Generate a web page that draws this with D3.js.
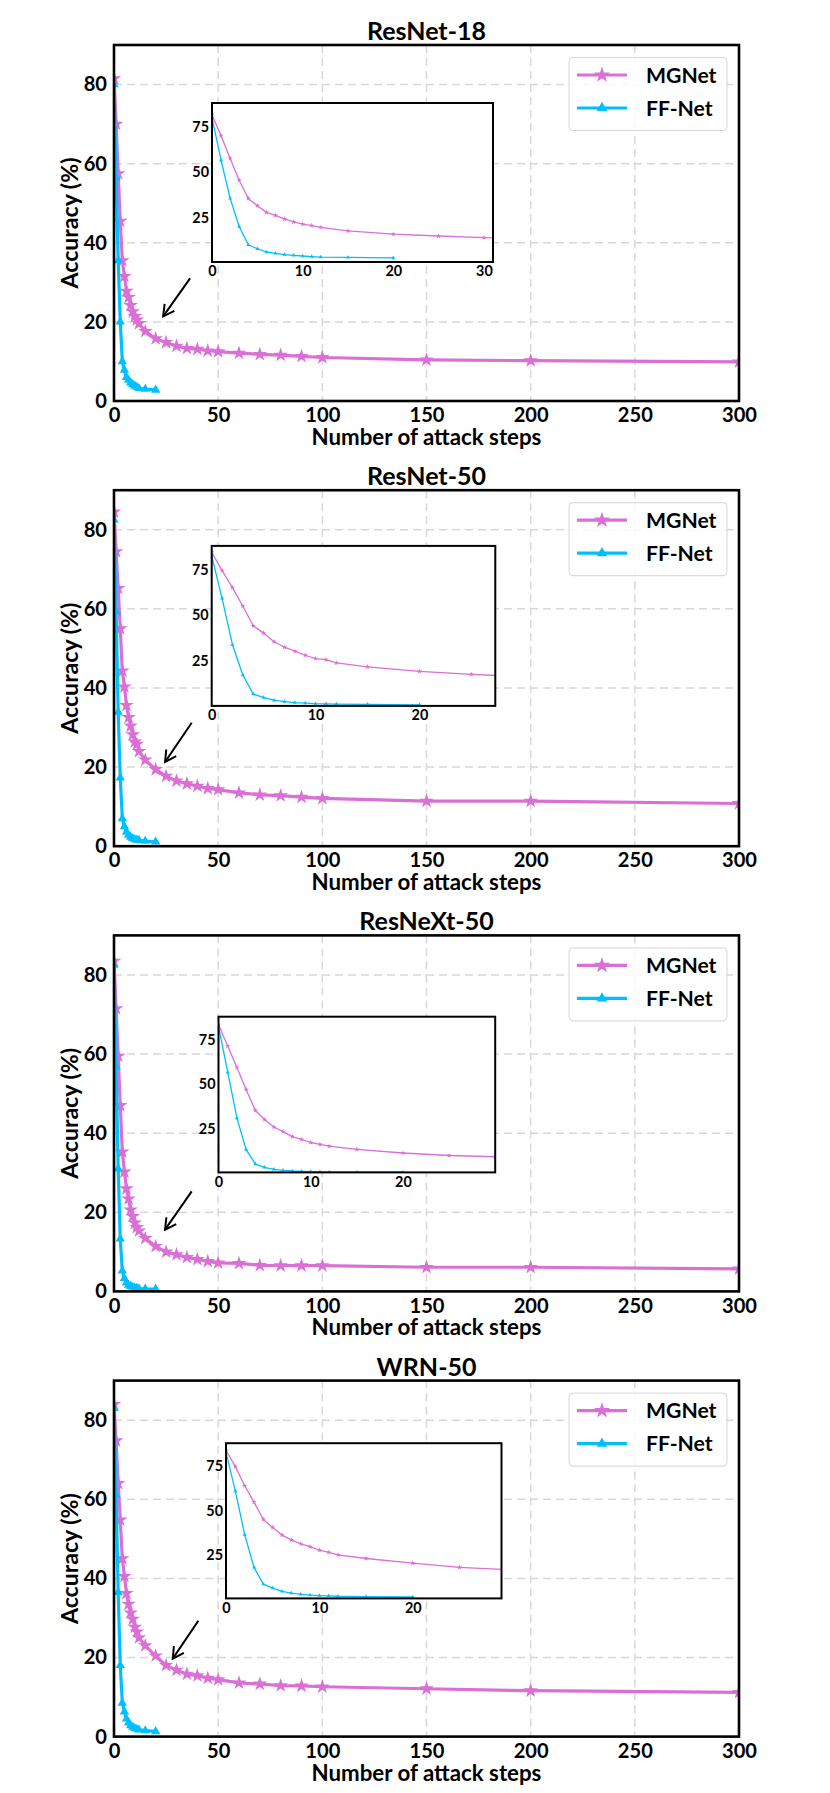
<!DOCTYPE html>
<html>
<head>
<meta charset="utf-8">
<script src="https://cdn.jsdelivr.net/npm/d3@7"></script>
<style>
  body { margin: 0; background: #fff; }
  text { font-family: Lato, "Open Sans", sans-serif; font-weight: bold; fill: #000; }
</style>
</head>
<body>
<script>
// attack steps (x) for each curve
var stepsMG = [0, 1, 2, 3, 4, 5, 6, 7, 8, 9, 10, 11, 12, 15, 20, 25, 30, 35, 40, 45, 50, 60, 70, 80, 90, 100, 150, 200, 300];
var stepsFF = [0, 1, 2, 3, 4, 5, 6, 7, 8, 9, 10, 11, 12, 15, 20];

var titles = ['ResNet-18', 'ResNet-50', 'ResNeXt-50', 'WRN-50'];

// accuracy (%)
var mgResNet18 = [81.5, 70, 57.5, 45.5, 35.5, 31.5, 27.8, 26.2, 24.2, 22.6, 21.4, 20.5, 19.6, 17.6, 15.8, 14.8, 13.9, 13.3, 13.1, 12.7, 12.5, 12.1, 11.8, 11.6, 11.3, 11, 10.4, 10.2, 9.9];
var ffResNet18 = [80, 56.5, 35.5, 20, 10, 7.8, 6, 5.3, 4.6, 4.2, 3.8, 3.5, 3.2, 3.0, 2.8];
var mgResNet50 = [84.5, 74.5, 65.2, 55, 44.3, 40.3, 35.6, 32.6, 30.4, 28.2, 26.4, 25.8, 24, 21.8, 19.4, 17.7, 16.5, 15.8, 15.2, 14.6, 14.3, 13.5, 13, 12.8, 12.4, 12.1, 11.4, 11.4, 10.8];
var ffResNet50 = [82.5, 59.3, 33.9, 17.3, 7, 5, 3.6, 2.8, 2.3, 2, 1.7, 1.6, 1.5, 1.3, 1.1];
var mgResNeXt50 = [83.5, 71.5, 59.5, 47, 35.3, 30.2, 26, 23.4, 20.6, 19, 17.3, 16.2, 15.3, 13.4, 11.4, 10, 9.3, 8.6, 8.1, 7.6, 7.2, 7.1, 6.6, 6.5, 6.5, 6.5, 6.1, 6.1, 5.7];
var ffResNeXt50 = [82.5, 56.8, 31, 13.3, 5.2, 3.3, 2.2, 1.6, 1.3, 1.1, 0.9, 0.8, 0.7, 0.6, 0.6];
var mgWRN50 = [84, 74.8, 64, 54.8, 45, 40.5, 36.2, 33.5, 31.3, 29.7, 27.7, 26.5, 25, 23, 20.4, 18, 16.8, 15.8, 15.4, 14.8, 14.4, 13.6, 13.3, 12.9, 12.8, 12.6, 12.1, 11.6, 11.2];
var ffWRN50 = [83, 61, 36.5, 18, 8.5, 6.3, 4.5, 3.5, 2.8, 2.4, 2.1, 1.9, 1.7, 1.5, 1.3];

var xTicks = [0, 50, 100, 150, 200, 250, 300];
var yTicks = [0, 20, 40, 60, 80];
var insetYTicks = [25, 50, 75];
var insetXMax = [31, 27.3, 30, 29.5];
var insetXTicks = [[0, 10, 20, 30], [0, 10, 20], [0, 10, 20], [0, 10, 20]];

// arrow annotations, [fromStep, fromAcc, toStep, toAcc]
var arrows = [[36.5, 31, 23.6, 21.4], [37.3, 31.2, 24.5, 21.3], [37.3, 25.3, 24.5, 15.6], [40.5, 29.3, 28.2, 19.7]];

var mgSeries = [mgResNet18, mgResNet50, mgResNeXt50, mgWRN50];
var ffSeries = [ffResNet18, ffResNet50, ffResNeXt50, ffWRN50];

var MG_COLOR = '#da70d6';
var FF_COLOR = '#00bfff';

// layout
var W = 830, H = 1793;
var left = 114, right = 739;
var firstTop = 45, panelStep = 445.2, plotH = 356;
// inset boxes relative to each panel: [x0, top offset, x1, bottom offset]
var insetBoxes = [[212, 58, 493, 217], [211.7, 55.7, 495.3, 215.7], [218.5, 81.3, 495.2, 237], [226, 62.6, 501.5, 217.8]];

var svg = d3.select('body').append('svg')
  .attr('width', W)
  .attr('height', H);

// font size that makes a sample string as wide as it is in the picture
var fitSize = function (sample, width) {
  var t = svg.append('text').style('font-size', '20px').text(sample);
  var len = t.node().getComputedTextLength();
  t.remove();
  return (20 * width / len).toFixed(2) + 'px';
};
var titleSize = fitSize('ResNet-18', 119);
var labelSize = fitSize('Number of attack steps', 230);
var ylabelSize = fitSize('Accuracy (%)', 131);
var tickSize = fitSize('200', 35);
var legendSize = fitSize('MGNet', 70.5);
var insetTickSize = fitSize('75', 16.7);

var defs = svg.append('defs');
defs.append('marker')
  .attr('id', 'arrowhead')
  .attr('viewBox', '-12 -8 14 16')
  .attr('markerWidth', 14)
  .attr('markerHeight', 16)
  .attr('markerUnits', 'userSpaceOnUse')
  .attr('orient', 'auto')
  .append('path')
  .attr('d', 'M-11,-6 L0,0 L-11,6')
  .attr('fill', 'none')
  .attr('stroke', '#000')
  .attr('stroke-width', 2);

var star = function (size) { return d3.symbol().type(d3.symbolStar).size(size)(); };
var tri = function (size) { return d3.symbol().type(d3.symbolTriangle).size(size)(); };

var drawSeries = function (g, xs, ys, x, y, color, lw, path, clipId) {
  var pts = xs.map(function (d, i) { return [d, ys[i]]; });
  var s = g.append('g').attr('clip-path', 'url(#' + clipId + ')');
  s.append('path')
    .datum(pts)
    .attr('fill', 'none')
    .attr('stroke', color)
    .attr('stroke-width', lw)
    .attr('stroke-linejoin', 'round')
    .attr('d', d3.line().x(function (d) { return x(d[0]); }).y(function (d) { return y(d[1]); }));
  s.selectAll('path.mk')
    .data(pts.filter(function (d) { return d[0] <= x.domain()[1] + 2; }))
    .enter()
    .append('path')
    .attr('class', 'mk')
    .attr('d', path)
    .attr('fill', color)
    .attr('transform', function (d) { return 'translate(' + x(d[0]) + ',' + y(d[1]) + ')'; });
};

titles.forEach(function (title, p) {
  var top = firstTop + p * panelStep;
  var bottom = top + plotH;
  var g = svg.append('g');

  var x = d3.scaleLinear().domain([0, 300]).range([left, right]);
  var y = d3.scaleLinear().domain([0, 90]).range([bottom, top]);

  defs.append('clipPath').attr('id', 'clip' + p)
    .append('rect').attr('x', left).attr('y', top).attr('width', right - left).attr('height', plotH);

  // grid
  g.selectAll('line.gx')
    .data(xTicks.slice(1, -1))
    .enter()
    .append('line')
    .attr('x1', function (d) { return x(d); })
    .attr('x2', function (d) { return x(d); })
    .attr('y1', top).attr('y2', bottom)
    .attr('stroke', '#d8d8d8').attr('stroke-width', 1.5).attr('stroke-dasharray', '8,5');
  g.selectAll('line.gy')
    .data(yTicks.slice(1))
    .enter()
    .append('line')
    .attr('y1', function (d) { return y(d); })
    .attr('y2', function (d) { return y(d); })
    .attr('x1', left).attr('x2', right)
    .attr('stroke', '#d8d8d8').attr('stroke-width', 1.5).attr('stroke-dasharray', '8,5');

  // curves
  drawSeries(g, stepsMG, mgSeries[p], x, y, MG_COLOR, 3.2, star(66), 'clip' + p);
  drawSeries(g, stepsFF, ffSeries[p], x, y, FF_COLOR, 3.2, tri(38), 'clip' + p);

  // axes
  var ax = g.append('g')
    .attr('transform', 'translate(0,' + bottom + ')')
    .call(d3.axisBottom(x).tickValues(xTicks).tickSize(0).tickPadding(7));
  var ay = g.append('g')
    .attr('transform', 'translate(' + left + ',0)')
    .call(d3.axisLeft(y).tickValues(yTicks).tickSize(0).tickPadding(7));
  [ax, ay].forEach(function (a) {
    a.select('.domain').remove();
    a.selectAll('text').style('font-size', tickSize).style('font-family', 'Lato, sans-serif').style('font-weight', 'bold');
  });

  // frame
  g.append('rect')
    .attr('x', left).attr('y', top)
    .attr('width', right - left).attr('height', plotH)
    .attr('fill', 'none').attr('stroke', '#000').attr('stroke-width', 2.6);

  // titles and labels
  g.append('text')
    .attr('x', (left + right) / 2).attr('y', top - 5)
    .attr('text-anchor', 'middle')
    .style('font-size', titleSize)
    .text(title);
  g.append('text')
    .attr('x', (left + right) / 2).attr('y', bottom + 44)
    .attr('text-anchor', 'middle')
    .style('font-size', labelSize)
    .text('Number of attack steps');
  g.append('text')
    .attr('transform', 'translate(70,' + (top + bottom) / 2 + ') rotate(-90)')
    .attr('text-anchor', 'middle')
    .attr('dy', '0.35em')
    .style('font-size', ylabelSize)
    .text('Accuracy (%)');

  // legend
  var lg = g.append('g');
  lg.append('rect')
    .attr('x', 569).attr('y', top + 12.5)
    .attr('width', 158).attr('height', 73)
    .attr('rx', 4)
    .attr('fill', '#fff').attr('fill-opacity', 0.85)
    .attr('stroke', '#d6d6d6').attr('stroke-width', 1);
  [[MG_COLOR, star(80), 'MGNet'], [FF_COLOR, tri(50), 'FF-Net']].forEach(function (e, i) {
    var ly = top + 30 + i * 33;
    lg.append('line')
      .attr('x1', 577).attr('x2', 627).attr('y1', ly).attr('y2', ly)
      .attr('stroke', e[0]).attr('stroke-width', 3.2);
    lg.append('path').attr('d', e[1]).attr('fill', e[0])
      .attr('transform', 'translate(602,' + ly + ')');
    lg.append('text')
      .attr('x', 646).attr('y', ly).attr('dy', '0.36em')
      .style('font-size', legendSize)
      .text(e[2]);
  });

  // arrow
  var ar = arrows[p];
  g.append('line')
    .attr('x1', x(ar[0])).attr('y1', y(ar[1]))
    .attr('x2', x(ar[2])).attr('y2', y(ar[3]))
    .attr('stroke', '#000').attr('stroke-width', 2)
    .attr('marker-end', 'url(#arrowhead)');

  // inset
  var b = insetBoxes[p];
  var it = top + b[1], ib = top + b[3];
  var ix = d3.scaleLinear().domain([0, insetXMax[p]]).range([b[0], b[2]]);
  var iy = d3.scaleLinear().domain([0.5, 88]).range([ib, it]);
  var ig = g.append('g');
  ig.append('rect')
    .attr('x', b[0]).attr('y', it).attr('width', b[2] - b[0]).attr('height', ib - it)
    .attr('fill', '#fff');
  defs.append('clipPath').attr('id', 'iclip' + p)
    .append('rect').attr('x', b[0]).attr('y', it).attr('width', b[2] - b[0]).attr('height', ib - it);
  drawSeries(ig, stepsMG, mgSeries[p], ix, iy, MG_COLOR, 1.3, star(9), 'iclip' + p);
  drawSeries(ig, stepsFF, ffSeries[p], ix, iy, FF_COLOR, 1.3, tri(7), 'iclip' + p);
  var iax = ig.append('g')
    .attr('transform', 'translate(0,' + ib + ')')
    .call(d3.axisBottom(ix).tickValues(insetXTicks[p]).tickSize(0).tickPadding(4));
  var iay = ig.append('g')
    .attr('transform', 'translate(' + b[0] + ',0)')
    .call(d3.axisLeft(iy).tickValues(insetYTicks).tickSize(0).tickPadding(3));
  [iax, iay].forEach(function (a) {
    a.select('.domain').remove();
    a.selectAll('text').style('font-size', insetTickSize).style('font-family', 'Lato, sans-serif').style('font-weight', 'bold');
  });
  ig.append('rect')
    .attr('x', b[0]).attr('y', it).attr('width', b[2] - b[0]).attr('height', ib - it)
    .attr('fill', 'none').attr('stroke', '#000').attr('stroke-width', 2);
});
</script>
</body>
</html>
